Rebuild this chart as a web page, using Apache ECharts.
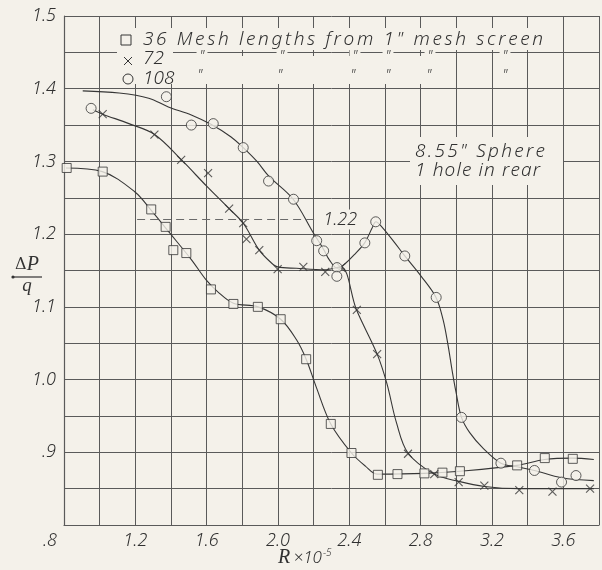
<!DOCTYPE html>
<html>
<head>
<meta charset="utf-8">
<script src="https://cdn.jsdelivr.net/npm/echarts@6/dist/echarts.min.js"></script>
<style>
  html, body { margin: 0; padding: 0; background: #f4f1ea; }
  #chart { width: 602px; height: 570px; }
</style>
</head>
<body>
<div id="chart"></div>
<script>
// Pressure coefficient ΔP/q against Reynolds number R×10^-5,
// 8.55" sphere with one hole in rear, behind screens at three mesh lengths.

// Measured points, 36 mesh lengths
const mesh36R = [0.815, 1.017, 1.289, 1.370, 1.413, 1.486, 1.624, 1.750, 1.887, 2.015, 2.158,
                 2.296, 2.412, 2.560, 2.670, 2.821, 2.922, 3.020, 3.341, 3.496, 3.653];
const mesh36P = [1.291, 1.286, 1.234, 1.210, 1.178, 1.174, 1.124, 1.104, 1.100, 1.083, 1.028,
                 0.939, 0.899, 0.869, 0.870, 0.871, 0.872, 0.874, 0.882, 0.892, 0.891];

// Measured points, 72 mesh lengths
const mesh72R = [1.017, 1.307, 1.457, 1.608, 1.726, 1.805, 1.823, 1.895, 1.998, 2.142, 2.265,
                 2.354, 2.442, 2.556, 2.729, 2.876, 3.013, 3.157, 3.353, 3.539, 3.750];
const mesh72P = [1.365, 1.337, 1.302, 1.284, 1.235, 1.215, 1.193, 1.178, 1.152, 1.155, 1.148,
                 1.154, 1.096, 1.035, 0.898, 0.870, 0.859, 0.854, 0.848, 0.846, 0.850];

// Measured points, 108 mesh lengths
const mesh108R = [0.952, 1.374, 1.514, 1.637, 1.805, 1.947, 2.087, 2.217, 2.256, 2.331, 2.330,
                  2.487, 2.548, 2.711, 2.887, 3.029, 3.250, 3.438, 3.590, 3.671];
const mesh108P = [1.373, 1.389, 1.350, 1.352, 1.319, 1.273, 1.248, 1.191, 1.177, 1.154, 1.142,
                  1.188, 1.217, 1.170, 1.113, 0.948, 0.885, 0.875, 0.859, 0.868];

// Faired curves drawn through each set
const curve36R = [0.811, 1.015, 1.198, 1.288, 1.395, 1.514, 1.597, 1.661, 1.750, 1.888, 2.015, 2.103,
                  2.158, 2.214, 2.296, 2.412, 2.490, 2.556, 2.821, 3.020, 3.340, 3.495, 3.649, 3.771];
const curve36P = [1.291, 1.286, 1.258, 1.233, 1.201, 1.165, 1.137, 1.121, 1.105, 1.100, 1.083, 1.055,
                  1.028, 0.990, 0.939, 0.899, 0.881, 0.870, 0.871, 0.874, 0.882, 0.890, 0.892, 0.890];

const curve72R = [0.962, 1.017, 1.164, 1.308, 1.459, 1.600, 1.726, 1.805, 1.895, 1.956, 1.998, 2.103,
                  2.263, 2.352, 2.440, 2.556, 2.610, 2.665, 2.729, 2.876, 3.014, 3.158, 3.351, 3.771];
const curve72P = [1.371, 1.365, 1.352, 1.337, 1.302, 1.266, 1.235, 1.215, 1.178, 1.162, 1.155, 1.153,
                  1.151, 1.155, 1.096, 1.035, 0.995, 0.940, 0.899, 0.870, 0.860, 0.853, 0.850, 0.850];

const curve108R = [0.905, 1.109, 1.275, 1.385, 1.514, 1.624, 1.735, 1.805, 1.882, 1.947, 2.085, 2.195,
                   2.256, 2.287, 2.333, 2.379, 2.425, 2.486, 2.527, 2.549, 2.582, 2.655, 2.711, 2.803,
                   2.886, 2.926, 2.953, 2.976, 2.998, 3.029, 3.075, 3.152, 3.250, 3.340, 3.438, 3.590, 3.771];
const curve108P = [1.397, 1.394, 1.387, 1.375, 1.364, 1.351, 1.334, 1.319, 1.300, 1.280, 1.248, 1.203,
                   1.179, 1.165, 1.153, 1.160, 1.171, 1.188, 1.208, 1.217, 1.210, 1.188, 1.170, 1.142,
                   1.113, 1.082, 1.048, 1.013, 0.983, 0.948, 0.927, 0.905, 0.885, 0.880, 0.875, 0.865, 0.861];

// Reference level marked on the chart
const refLevel = 1.22;
const refFrom = 1.21;
const refTo = 2.22;

// Axis tick labels
const xTickValues = [0.8, 1.2, 1.6, 2.0, 2.4, 2.8, 3.2, 3.6];
const xTickLabels = ['.8', '1.2', '1.6', '2.0', '2.4', '2.8', '3.2', '3.6'];
const yTickValues = [0.9, 1.0, 1.1, 1.2, 1.3, 1.4, 1.5];
const yTickLabels = ['.9', '1.0', '1.1', '1.2', '1.3', '1.4', '1.5'];

// Ditto marks in the key
const dittoRow72 = [202, 282, 355, 388, 430, 505];
const dittoRow108 = [200, 280, 353, 388, 429, 505];

const PAPER = '#f4f1ea';
const INK = '#363636';
const GRID = '#5a5a5a';
const TEXT = '#303030';
const LETTER = "'Noto Sans', 'DejaVu Sans', sans-serif";

const zip = (a, b) => a.map((v, i) => [v, b[i]]);
const lookup = (vals, labels) => v => {
  const k = vals.findIndex(t => Math.abs(t - v) < 1e-6);
  return k < 0 ? '' : labels[k];
};

const letterFont = { fontFamily: LETTER, fontStyle: 'italic', fontWeight: 300 };
const labelStyle = Object.assign({ fontSize: 18, color: TEXT }, letterFont);

// Hand lettering is widely tracked: give every character its own advance so
// that the whole string spans the requested width.
const measureCtx = document.createElement('canvas').getContext('2d');
const tracked = (str, size, span) => {
  measureCtx.font = 'italic 300 ' + size + 'px ' + LETTER;
  const chars = Array.from(str);
  const widths = chars.map(c => measureCtx.measureText(c).width);
  const natural = widths.reduce((s, w) => s + w, 0);
  const extra = chars.length > 1 ? Math.max(0, (span - natural) / (chars.length - 1)) : 0;
  const rich = {};
  const text = chars.map((c, i) => {
    const key = 'c' + i;
    rich[key] = Object.assign({ fontSize: size, fill: TEXT, width: widths[i] + (i < chars.length - 1 ? extra : 0) }, letterFont);
    return '{' + key + '|' + c + '}';
  }).join('');
  return { text: text, rich: rich };
};
const lettering = (x, y, content) => ({
  type: 'text', z: 6, x: x, y: y,
  style: Object.assign({ verticalAlign: 'middle', align: 'left', fill: TEXT }, content)
});

const chart = echarts.init(document.getElementById('chart'), null, { renderer: 'canvas' });

const graphic = [
  // clear paper behind the key and the note
  { type: 'rect', z: 5, shape: { x: 117, y: 28, width: 433, height: 22 }, style: { fill: PAPER } },
  { type: 'rect', z: 5, shape: { x: 117, y: 49, width: 56, height: 8 }, style: { fill: PAPER } },
  { type: 'rect', z: 5, shape: { x: 117, y: 56, width: 331, height: 28 }, style: { fill: PAPER } },
  { type: 'rect', z: 5, shape: { x: 410, y: 137, width: 153, height: 48 }, style: { fill: PAPER } },
  // key symbols
  { type: 'rect', z: 6, shape: { x: 121, y: 35, width: 10, height: 10 },
    style: { fill: PAPER, stroke: INK, lineWidth: 1 } },
  { type: 'line', z: 6, shape: { x1: 124, y1: 57, x2: 132, y2: 65 }, style: { stroke: INK, lineWidth: 1 } },
  { type: 'line', z: 6, shape: { x1: 124, y1: 65, x2: 132, y2: 57 }, style: { stroke: INK, lineWidth: 1 } },
  { type: 'circle', z: 6, shape: { cx: 128, cy: 79, r: 5 }, style: { fill: PAPER, stroke: INK, lineWidth: 1 } },
  // key text
  lettering(143, 40, tracked('36 Mesh lengths from 1" mesh screen', 19, 400)),
  lettering(143, 59, Object.assign({ text: '72', fontSize: 19 }, letterFont)),
  lettering(143, 79, Object.assign({ text: '108', fontSize: 19 }, letterFont)),
  // note
  lettering(415, 152, tracked('8.55" Sphere', 19, 130)),
  lettering(415, 171, tracked('1 hole in rear', 19, 125)),
  // x axis title
  { type: 'text', z: 6, x: 278, y: 558, style: {
      text: '{r|R} {m|×10}{s|−5}', verticalAlign: 'middle', align: 'left',
      rich: {
        r: { fontFamily: "'Liberation Serif', serif", fontStyle: 'italic', fontSize: 20, fill: TEXT },
        m: Object.assign({ fontSize: 17, fill: TEXT }, letterFont),
        s: Object.assign({ fontSize: 10, fill: TEXT, verticalAlign: 'top', padding: [0, 0, 10, 1] }, letterFont)
      } } },
  // y axis title ΔP / q
  { type: 'text', z: 6, x: 27, y: 265, style: {
      text: '{d|Δ}{p|P}', align: 'center', verticalAlign: 'middle',
      rich: {
        d: { fontFamily: "'DejaVu Serif', serif", fontSize: 16, fill: '#333' },
        p: { fontFamily: "'Liberation Serif', serif", fontStyle: 'italic', fontSize: 20, fill: '#333' }
      } } },
  { type: 'line', z: 6, shape: { x1: 13, y1: 277, x2: 42, y2: 277 }, style: { stroke: '#333', lineWidth: 1.2 } },
  { type: 'circle', z: 6, shape: { cx: 13, cy: 277, r: 1.6 }, style: { fill: '#333' } },
  { type: 'text', z: 6, x: 27, y: 286, style: {
      text: 'q', align: 'center', verticalAlign: 'middle',
      fontFamily: "'Liberation Serif', serif", fontStyle: 'italic', fontSize: 19, fill: '#333' } }
];

dittoRow72.forEach(x => graphic.push({ type: 'text', z: 7, x: x, y: 57, style: Object.assign({
  text: '"', align: 'center', verticalAlign: 'middle', fontSize: 14, fill: TEXT,
  backgroundColor: PAPER, padding: [0, 3] }, letterFont) }));
dittoRow108.forEach(x => graphic.push({ type: 'text', z: 7, x: x, y: 76, style: Object.assign({
  text: '"', align: 'center', verticalAlign: 'middle', fontSize: 14, fill: TEXT }, letterFont) }));

const curveLine = { color: INK, width: 1.1 };
const xLabelText = lookup(xTickValues, xTickLabels);

const option = {
  backgroundColor: PAPER,
  animation: false,
  grid: { left: 64, top: 16, width: 543, height: 509, containLabel: false },
  xAxis: {
    type: 'value', min: 0.8, max: 3.8, interval: 0.2,
    axisLine: { show: true, onZero: false, lineStyle: { color: GRID, width: 1.2 } },
    axisTick: { show: false },
    splitLine: { show: true, lineStyle: { color: GRID, width: 1 } },
    axisLabel: Object.assign({}, labelStyle, {
      margin: 7,
      alignMinLabel: 'right',
      formatter: v => Math.abs(v - xTickValues[0]) < 1e-6 ? '{lead|' + xLabelText(v) + '}' : xLabelText(v),
      rich: { lead: Object.assign({ fontSize: 18, color: TEXT, padding: [0, 7, 0, 0] }, letterFont) }
    })
  },
  yAxis: {
    type: 'value', min: 0.8, max: 1.5, interval: 0.05,
    axisLine: { show: true, onZero: false, lineStyle: { color: GRID, width: 1.2 } },
    axisTick: { show: false },
    splitLine: { show: true, lineStyle: { color: GRID, width: 1 } },
    axisLabel: Object.assign({}, labelStyle, { margin: 8, formatter: lookup(yTickValues, yTickLabels) })
  },
  graphic: graphic,
  series: [
    {
      name: '36 faired', type: 'line', data: zip(curve36R, curve36P), smooth: 0.35,
      showSymbol: false, lineStyle: curveLine, z: 3,
      markLine: {
        silent: true, symbol: 'none',
        lineStyle: { color: '#6a6a6a', type: [8, 5], width: 1 },
        label: Object.assign({}, labelStyle, {
          show: true, position: 'end', distance: 3, formatter: String(refLevel),
          backgroundColor: PAPER, padding: [1, 3]
        }),
        data: [[{ coord: [refFrom, refLevel] }, { coord: [refTo, refLevel] }]]
      }
    },
    { name: '72 faired', type: 'line', data: zip(curve72R, curve72P), smooth: 0.35,
      showSymbol: false, lineStyle: curveLine, z: 3 },
    { name: '108 faired', type: 'line', data: zip(curve108R, curve108P), smooth: 0.35,
      showSymbol: false, lineStyle: curveLine, z: 3 },
    { name: '36', type: 'scatter', data: zip(mesh36R, mesh36P), symbol: 'rect', symbolSize: 9,
      itemStyle: { color: PAPER, borderColor: INK, borderWidth: 1 }, z: 4 },
    { name: '72', type: 'scatter', data: zip(mesh72R, mesh72P),
      symbol: 'path://M0,0L10,10M0,10L10,0', symbolSize: 8,
      itemStyle: { color: 'rgba(0,0,0,0)', borderColor: INK, borderWidth: 1.1 }, z: 4 },
    { name: '108', type: 'scatter', data: zip(mesh108R, mesh108P), symbol: 'circle', symbolSize: 10,
      itemStyle: { color: PAPER, borderColor: INK, borderWidth: 1 }, z: 4 }
  ]
};

chart.setOption(option);
</script>
</body>
</html>
